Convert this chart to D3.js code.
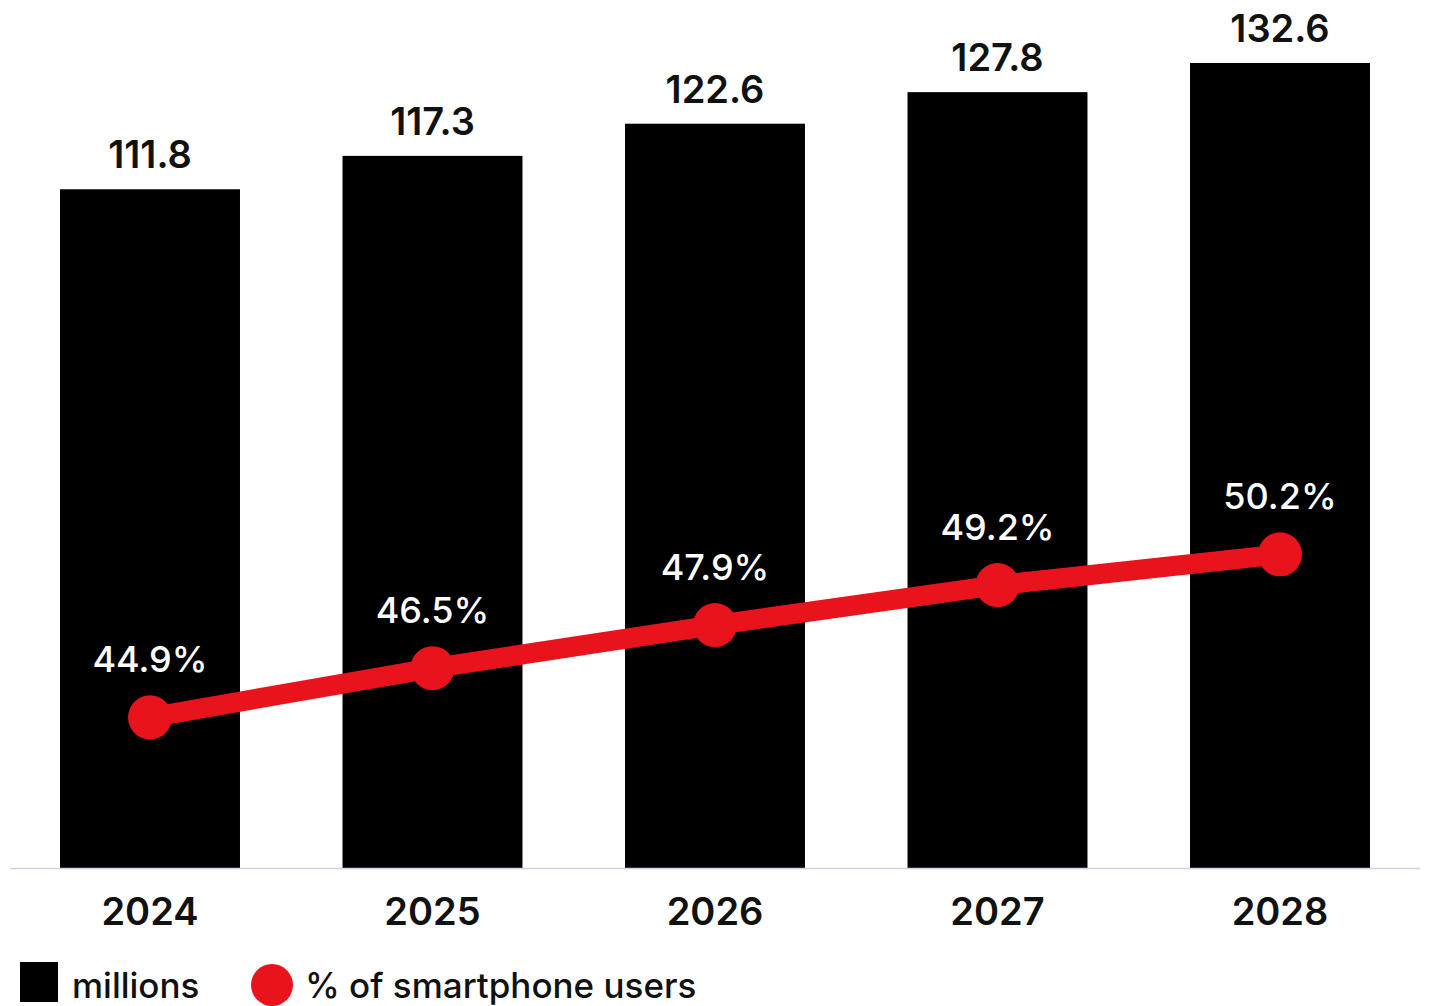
<!DOCTYPE html>
<html>
<head>
<meta charset="utf-8">
<script src="https://cdn.jsdelivr.net/npm/d3@7"></script>
<style>
  body { margin: 0; background: #fff; }
  svg { display: block; font-family: Inter, "Noto Sans", sans-serif; }
</style>
</head>
<body>
<div id="chart"></div>
<script>
// chart data
var years = ["2024", "2025", "2026", "2027", "2028"];
var millions = [111.8, 117.3, 122.6, 127.8, 132.6];
var sharePct = [44.9, 46.5, 47.9, 49.2, 50.2];

var svgWidth = 1429;
var svgHeight = 1006;
var baseY = 868;

var svg = d3.select("#chart")
    .append("svg")
    .attr("width", svgWidth)
    .attr("height", svgHeight);

var xScale = d3.scaleBand()
    .domain(years)
    .range([8.75, 1421.25])
    .paddingInner(0.363)
    .paddingOuter(0.1815);

// bars: linear from zero
var yScale = d3.scaleLinear()
    .domain([0, 132.6])
    .range([baseY, 63]);

// line: separate scale
var pScale = d3.scaleLinear()
    .domain([40, 60])
    .range([baseY, baseY - 20 * 30.75]);

var rows = years.map(function(y, i) {
    return { year: y, value: millions[i], pct: sharePct[i] };
});

// bars
svg.selectAll("rect.bar")
    .data(rows)
    .enter()
    .append("rect")
    .attr("class", "bar")
    .attr("x", d => xScale(d.year))
    .attr("y", d => yScale(d.value))
    .attr("width", xScale.bandwidth())
    .attr("height", d => baseY - yScale(d.value))
    .attr("fill", "#000");

// bar value labels
svg.selectAll("text.val")
    .data(rows)
    .enter()
    .append("text")
    .attr("class", "val")
    .attr("x", d => xScale(d.year) + xScale.bandwidth() / 2)
    .attr("y", d => yScale(d.value) - 21)
    .attr("text-anchor", "middle")
    .attr("font-size", 38)
    .attr("font-weight", 600)
    .attr("fill", "#111")
    .text(d => d.value.toFixed(1));

// baseline
svg.append("line")
    .attr("x1", 10)
    .attr("x2", 1420)
    .attr("y1", baseY + 0.5)
    .attr("y2", baseY + 0.5)
    .attr("stroke", "#c9d3e6")
    .attr("stroke-width", 1.5);

// x axis labels
var xAxis = d3.axisBottom(xScale).tickSize(0).tickPadding(0);
var axisG = svg.append("g")
    .attr("transform", `translate(0, ${baseY})`)
    .call(xAxis);
axisG.select(".domain").remove();
axisG.selectAll("text")
    .attr("dy", null)
    .attr("y", 57)
    .attr("font-family", "Inter, 'Noto Sans', sans-serif")
    .attr("font-size", 38)
    .attr("font-weight", 600)
    .attr("fill", "#111");

// red line
var line = d3.line()
    .x(d => xScale(d.year) + xScale.bandwidth() / 2)
    .y(d => pScale(d.pct));

svg.append("path")
    .datum(rows)
    .attr("d", line)
    .attr("fill", "none")
    .attr("stroke", "#e8131b")
    .attr("stroke-width", 20);

svg.selectAll("circle.pt")
    .data(rows)
    .enter()
    .append("circle")
    .attr("class", "pt")
    .attr("cx", d => xScale(d.year) + xScale.bandwidth() / 2)
    .attr("cy", d => pScale(d.pct))
    .attr("r", 22)
    .attr("fill", "#e8131b");

svg.selectAll("text.pct")
    .data(rows)
    .enter()
    .append("text")
    .attr("class", "pct")
    .attr("x", d => xScale(d.year) + xScale.bandwidth() / 2)
    .attr("y", d => pScale(d.pct) - 45)
    .attr("text-anchor", "middle")
    .attr("font-size", 36)
    .attr("font-weight", 500)
    .attr("fill", "#fff")
    .text(d => d.pct.toFixed(1) + "%");

// legend
var legend = svg.append("g");
legend.append("rect")
    .attr("x", 20).attr("y", 962)
    .attr("width", 38).attr("height", 40)
    .attr("fill", "#000");
legend.append("text")
    .attr("x", 72).attr("y", 998)
    .attr("font-size", 35)
    .attr("font-weight", 500)
    .attr("fill", "#111")
    .text("millions");
legend.append("circle")
    .attr("cx", 272).attr("cy", 985)
    .attr("r", 21)
    .attr("fill", "#e8131b");
legend.append("text")
    .attr("x", 305).attr("y", 998)
    .attr("font-size", 35)
    .attr("font-weight", 500)
    .attr("fill", "#111")
    .text("% of smartphone users");
</script>
</body>
</html>
